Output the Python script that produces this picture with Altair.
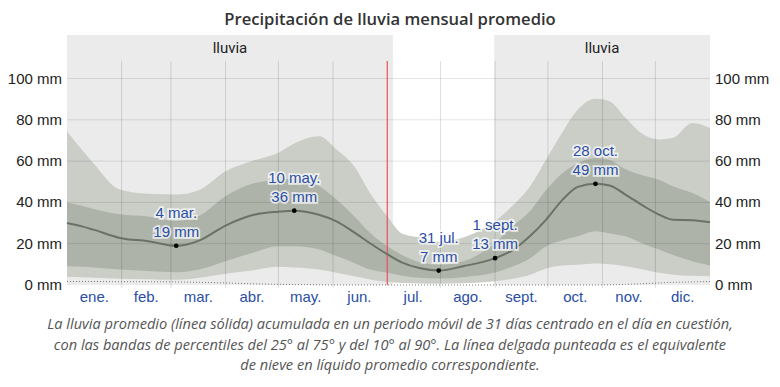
import altair as alt
import pandas as pd

# ---------------- data ----------------
days = [0, 8, 15, 30, 46, 62, 75, 90, 105, 120, 129, 143, 153, 163, 172, 182, 190,
        200, 211, 225, 243, 253, 263, 272, 281, 290, 300, 308, 317, 327, 336, 344, 355, 365]
mean = [30.0, 28.5, 26.8, 22.8, 21.2, 19.0, 21.5, 28.8, 33.8, 35.5, 36.0, 34.0, 30.8, 25.5,
        20.2, 14.8, 11.0, 8.2, 7.0, 9.1, 13.0, 16.9, 23.8, 31.7, 41.0, 47.5, 49.0, 48.2,
        43.8, 38.4, 34.1, 31.6, 31.4, 30.4]
p75 = [40.0, 38.5, 36.8, 34.3, 33.2, 31.0, 33.5, 43.0, 49.0, 51.0, 51.5, 48.0, 41.4, 33.3,
       25.3, 18.6, 14.6, 11.0, 9.8, 11.5, 20.4, 28.5, 36.0, 46.0, 54.0, 59.0, 61.5, 60.5,
       56.0, 53.0, 51.0, 47.8, 44.5, 40.2]
p90 = [74.5, 66.0, 59.0, 46.2, 44.2, 43.8, 46.0, 55.1, 60.0, 64.0, 68.5, 72.0, 65.6, 57.5,
       44.6, 33.0, 25.0, 23.0, 21.0, 23.0, 31.0, 38.5, 48.0, 60.8, 73.7, 85.0, 90.2, 89.0,
       81.0, 73.0, 70.5, 71.3, 78.5, 76.0]
p25 = [9.1, 8.8, 8.5, 7.5, 6.8, 6.2, 7.5, 11.5, 15.5, 18.8, 18.8, 17.2, 14.0, 10.7, 7.5,
       5.9, 4.5, 3.5, 3.2, 3.8, 6.0, 9.0, 13.0, 18.8, 21.5, 23.6, 26.0, 25.0, 23.6, 20.0,
       17.2, 14.5, 11.5, 9.5]
p10 = [4.0, 3.8, 3.5, 3.0, 2.8, 2.5, 3.5, 5.5, 7.0, 8.8, 8.5, 7.5, 5.9, 4.2, 2.7, 1.4, 1.0,
       0.7, 0.6, 0.8, 1.8, 3.0, 5.0, 8.0, 9.5, 9.8, 10.4, 10.0, 9.1, 7.5, 5.9, 5.0, 4.5, 4.2]
snow = [1.7, 1.7, 1.7, 1.6, 1.6, 1.5, 1.3, 1.0, 0.6, 0.3, 0.2, 0.1, 0.0, 0.0, 0.0, 0.0, 0.0,
        0.0, 0.0, 0.0, 0.0, 0.0, 0.0, 0.0, 0.0, 0.0, 0.0, 0.1, 0.3, 0.6, 1.0, 1.3, 1.5, 1.7]

ann_day = [62, 129, 211, 243, 300]
ann_val = [19, 36, 7, 13, 49]
ann_date = ["4 mar.", "10 may.", "31 jul.", "1 sept.", "28 oct."]
ann_mm = ["19 mm", "36 mm", "7 mm", "13 mm", "49 mm"]

month_start = [0, 31, 59, 90, 120, 151, 181, 212, 243, 273, 304, 334, 365]
month_labels = ["ene.", "feb.", "mar.", "abr.", "may.", "jun.", "jul.", "ago.", "sept.",
                "oct.", "nov.", "dic."]

season_start = [0, 242.5]
season_end = [185, 365]
season_label = ["lluvia", "lluvia"]

today_day = [181.8]
y_ticks = [0, 20, 40, 60, 80, 100]

title_text = "Precipitación de lluvia mensual promedio"
caption_lines = [
    "La lluvia promedio (línea sólida) acumulada en un periodo móvil de 31 días centrado en el día en cuestión,",
    "con las bandas de percentiles del 25° al 75° y del 10° al 90°. La línea delgada punteada es el equivalente",
    "de nieve en líquido promedio correspondiente.",
]

# ---------------- frames ----------------
df = pd.DataFrame({"day": days, "mean": mean, "p10": p10, "p25": p25,
                   "p75": p75, "p90": p90, "snow": snow})
ann = pd.DataFrame({"day": ann_day, "val": ann_val, "d": ann_date, "m": ann_mm})
mids = [(month_start[i] + month_start[i + 1]) / 2 for i in range(12)]
months = pd.DataFrame({"day": mids, "lab": month_labels})
bounds = pd.DataFrame({"day": [d for d in month_start[1:-1] if d != 181]})
seasons = pd.DataFrame({"s": season_start, "e": season_end, "lab": season_label,
                        "c": [(a + b) / 2 for a, b in zip(season_start, season_end)]})
today = pd.DataFrame({"day": today_day})
yt = pd.DataFrame({"v": y_ticks, "lab": [f"{v} mm" for v in y_ticks]})
grid = pd.DataFrame({"v": y_ticks[1:]})

W, H = 643, 250
XS = alt.Scale(domain=[0, 365], nice=False, zero=False)
X = alt.X("day:Q", scale=XS, axis=None)
YS = alt.Scale(domain=[0, 121.07], nice=False, zero=True)
YV = alt.Y("val:Q", scale=YS, axis=None)

FONT = "Liberation Sans, Arial, sans-serif"
NARROW = "Liberation Sans Narrow, Roboto, Liberation Sans, sans-serif"
BLUE = "#2a4ea6"

bg = alt.Chart(seasons).mark_rect(color="#ebebeb").encode(
    x=alt.X("s:Q", scale=XS, axis=None), x2="e:Q", y=alt.value(0), y2=alt.value(H))

season_txt = alt.Chart(seasons).mark_text(font=NARROW, fontSize=15, color="#222",
                                          baseline="middle").encode(
    x=alt.X("c:Q", scale=XS, axis=None), y=alt.value(13), text="lab:N")

outer = alt.Chart(df).mark_area(color="#cacec7", interpolate="monotone").encode(
    x=X, y=alt.Y("p10:Q", scale=YS, axis=None), y2="p90:Q")
inner = alt.Chart(df).mark_area(color="#adb3a9", interpolate="monotone").encode(
    x=X, y=alt.Y("p25:Q", scale=YS, axis=None), y2="p75:Q")

hgrid = alt.Chart(grid).mark_rule(color="#000", opacity=0.1, strokeWidth=1).encode(
    y=alt.Y("v:Q", scale=YS, axis=None), x=alt.value(0), x2=alt.value(W))
vgrid = alt.Chart(bounds).mark_rule(color="#000", opacity=0.13, strokeWidth=1).encode(
    x=X, y=alt.value(26), y2=alt.value(H + 3))
red = alt.Chart(today).mark_rule(color="#e8505c", strokeWidth=1.2).encode(
    x=X, y=alt.value(26), y2=alt.value(H))

snow_line = alt.Chart(df).mark_line(color="#777", strokeDash=[1, 2], strokeWidth=1,
                                    interpolate="monotone").encode(
    x=X, y=alt.Y("snow:Q", scale=YS, axis=None))
mean_line = alt.Chart(df).mark_line(color="#6a7266", strokeWidth=2,
                                    interpolate="monotone").encode(
    x=X, y=alt.Y("mean:Q", scale=YS, axis=None))

pts = alt.Chart(ann).mark_circle(color="#000", size=22, opacity=1).encode(x=X, y=YV)

ann_layers = []
for field, off in (("d", -33), ("m", -14)):
    ann_layers.append(alt.Chart(ann).mark_text(
        font=FONT, fontSize=15, baseline="middle", dy=off, fill="white", stroke="white",
        strokeWidth=3.5, opacity=0.7).encode(x=X, y=YV, text=f"{field}:N"))
    ann_layers.append(alt.Chart(ann).mark_text(
        font=FONT, fontSize=15, baseline="middle", dy=off, color=BLUE).encode(
        x=X, y=YV, text=f"{field}:N"))

mlab = alt.Chart(months).mark_text(font=FONT, fontSize=15, color=BLUE,
                                   baseline="middle").encode(
    x=X, y=alt.value(262), text="lab:N")

ylab_l = alt.Chart(yt).mark_text(font=FONT, fontSize=15, color="#222", align="right",
                                 baseline="middle").encode(
    x=alt.value(-5), y=alt.Y("v:Q", scale=YS, axis=None), text="lab:N")
ylab_r = alt.Chart(yt).mark_text(font=FONT, fontSize=15, color="#222", align="left",
                                 baseline="middle").encode(
    x=alt.value(648), y=alt.Y("v:Q", scale=YS, axis=None), text="lab:N")

title = alt.Chart(pd.DataFrame({"t": [title_text]})).mark_text(
    font="Open Sans, sans-serif", fontSize=16.6, fontWeight=600, color="#333",
    baseline="alphabetic").encode(x=alt.value(323), y=alt.value(-10), text="t:N")

cap_layers = []
for i, line in enumerate(caption_lines):
    cap_layers.append(
        alt.Chart(pd.DataFrame({"t": [line]})).mark_text(
            font="Open Sans, sans-serif", fontSize=14.6, fontStyle="italic",
            color="#555", baseline="middle").encode(
            x=alt.value(323), y=alt.value(290 + 20.5 * i), text="t:N"))

chart = alt.layer(
    bg, outer, inner, hgrid, vgrid, red, snow_line, mean_line, pts, *ann_layers,
    season_txt, mlab, ylab_l, ylab_r, title, *cap_layers
).properties(
    width=W, height=H,
    padding={"left": 59, "top": 27, "right": 62, "bottom": 92},
    autosize=alt.AutoSizeParams(type="none"),
).configure_view(stroke=None)

chart.save("out.html", embed_options={"renderer": "svg", "actions": False})
